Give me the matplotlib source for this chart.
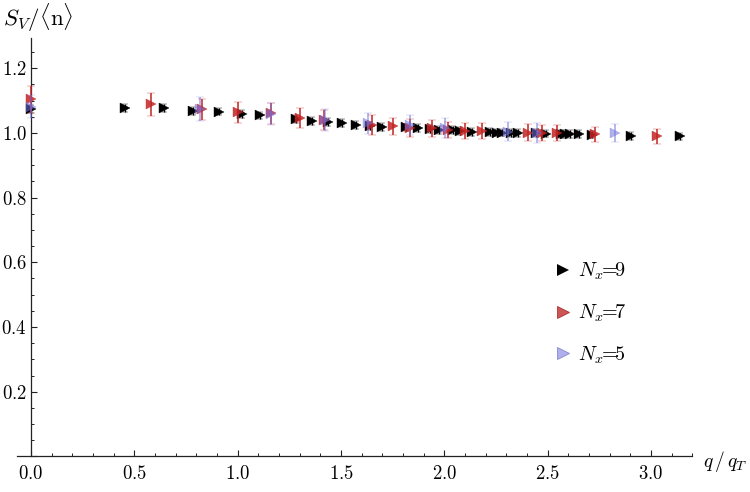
import numpy as np
import matplotlib.pyplot as plt
from matplotlib.ticker import MultipleLocator, FuncFormatter
from matplotlib.lines import Line2D

plt.switch_backend('agg')
plt.rcParams['mathtext.fontset'] = 'cm'
plt.rcParams['font.family'] = 'DejaVu Serif'

# Nx = 9
q9 = [0.0, 0.455, 0.643, 0.785, 0.908, 1.022, 1.110, 1.280, 1.360, 1.439, 1.505,
      1.574, 1.640, 1.699, 1.812, 1.874, 1.930, 1.975, 2.040, 2.078, 2.132, 2.222,
      2.256, 2.278, 2.320, 2.355, 2.443, 2.490, 2.562, 2.585, 2.610, 2.650, 2.712,
      2.902, 3.142]
s9 = [1.075, 1.077, 1.076, 1.068, 1.066, 1.058, 1.054, 1.042, 1.036, 1.033, 1.030,
      1.024, 1.022, 1.018, 1.017, 1.014, 1.012, 1.010, 1.008, 1.006, 1.003, 1.002,
      1.001, 1.001, 1.000, 1.000, 0.999, 0.998, 0.997, 0.997, 0.996, 0.996, 0.995,
      0.991, 0.989]
e9 = [0.012] * len(q9)

# Nx = 7
q7 = [0.0, 0.580, 0.828, 1.003, 1.160, 1.300, 1.420, 1.648, 1.753, 1.834, 1.939,
      2.019, 2.100, 2.180, 2.406, 2.470, 2.543, 2.730, 3.030]
s7 = [1.104, 1.088, 1.073, 1.064, 1.060, 1.047, 1.040, 1.025, 1.020, 1.016, 1.014,
      1.009, 1.006, 1.005, 1.001, 1.000, 1.000, 0.996, 0.990]
e7 = [0.042, 0.035, 0.033, 0.033, 0.033, 0.031, 0.031, 0.030, 0.027, 0.028, 0.027,
      0.026, 0.025, 0.025, 0.025, 0.025, 0.025, 0.023, 0.023]

# Nx = 5
q5 = [0.0, 0.818, 1.160, 1.422, 1.632, 1.834, 2.003, 2.310, 2.447, 2.825]
s5 = [1.081, 1.074, 1.058, 1.040, 1.030, 1.025, 1.015, 1.004, 1.000, 1.000]
e5 = [0.036, 0.037, 0.035, 0.033, 0.032, 0.031, 0.030, 0.030, 0.030, 0.028]

c9 = 'black'
c7 = '#c42424'
c5 = '#7272e0'

fig = plt.figure(figsize=(7.5, 4.92), dpi=100)
ax = fig.add_axes([16.5 / 750, (492 - 456.4) / 492, 675.9 / 750, 418.3 / 492])
ax.set_xlim(-0.07, 3.2)
ax.set_ylim(0, 1.293)

ax.errorbar(q9, s9, yerr=e9, fmt='>', color=c9, ms=7, mec=c9, mew=0.3, elinewidth=1.0,
            capsize=2.5, capthick=1.0, clip_on=False, zorder=3)
ax.errorbar(q7, s7, yerr=e7, fmt='>', color=c7, ms=7, mec=c7, mew=0.3, elinewidth=1.3,
            capsize=3, capthick=1.3, alpha=0.85, clip_on=False, zorder=4)
ax.errorbar(q5, s5, yerr=e5, fmt='>', color=c5, ms=7, mec=c5, mew=0.3, elinewidth=1.3,
            capsize=3, capthick=1.3, alpha=0.55, clip_on=False, zorder=5)

# Mathematica style axes
for s in ['top', 'right']:
    ax.spines[s].set_visible(False)
ax.spines['left'].set_position(('data', 0))
for s in ['left', 'bottom']:
    ax.spines[s].set_color('#222222')
    ax.spines[s].set_linewidth(0.9)

ax.xaxis.set_major_locator(MultipleLocator(0.5))
ax.xaxis.set_minor_locator(MultipleLocator(0.1))
ax.yaxis.set_major_locator(MultipleLocator(0.2))
ax.yaxis.set_minor_locator(MultipleLocator(0.05))
ax.xaxis.set_major_formatter(FuncFormatter(lambda v, p: f'${v:.1f}$'))
ax.yaxis.set_major_formatter(FuncFormatter(lambda v, p: '' if abs(v) < 1e-9 else f'${v:.1f}$'))
ax.tick_params(which='major', direction='in', length=4.5, width=0.8, color='#222222',
               labelsize=13.5)
ax.tick_params(which='minor', direction='in', length=2.3, width=0.7, color='#222222')
ax.tick_params(axis='x', pad=6)
ax.tick_params(axis='y', pad=3)

fig.text(3 / 750, 1 - 18 / 492, r'$S_V/\langle \mathrm{n}\rangle$', fontsize=16.5, va='center')
fig.text(703 / 750, 1 - 461 / 492, r'$q\,/\,q_T$', fontsize=14, va='center')

handles = [Line2D([], [], ls='none', marker='>', color=c9, ms=8, mew=0),
           Line2D([], [], ls='none', marker='>', color='#cc5555', ms=8, mew=0.6, mec='#aa3333'),
           Line2D([], [], ls='none', marker='>', color='#b0b0ee', ms=8, mew=0.6, mec='#8888cc')]
labels = [r'$N_x\!\!=\!\!9$', r'$N_x\!\!=\!\!7$', r'$N_x\!\!=\!\!5$']
ax.legend(handles, labels, loc='upper left', bbox_to_anchor=(540 / 750, 1 - 251 / 492),
          bbox_transform=fig.transFigure, frameon=False, fontsize=14.5,
          labelspacing=1.0, handletextpad=0.15, handlelength=1.25, borderpad=0)

fig.savefig('out.png', dpi=100)
